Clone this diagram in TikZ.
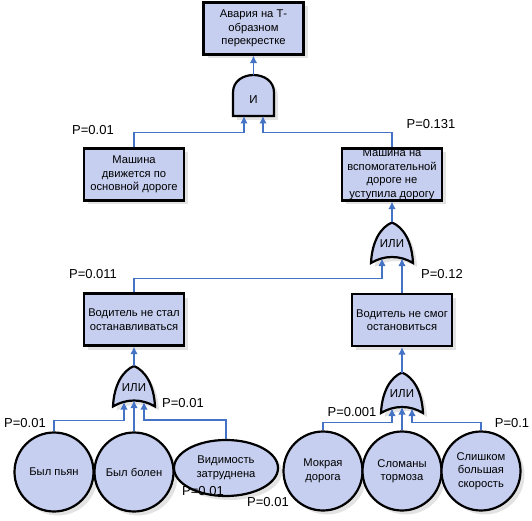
\documentclass[tikz,border=0pt]{standalone}
\usepackage{fontspec}
\setmainfont{Liberation Sans}
\usetikzlibrary{shapes.geometric}
\usetikzlibrary{shadows}
\usetikzlibrary{arrows.meta}

\definecolor{eventfill}{RGB}{198,207,240}
\definecolor{wireblue}{RGB}{68,114,196}

\tikzset{
  gateline/.style={draw=black,line width=2.2pt,fill=eventfill,
    drop shadow={shadow xshift=4pt,shadow yshift=-4pt,fill=black!22}},
  gatetext/.style={inner sep=0pt,font=\fontsize{11.5}{13}\selectfont},
  andgate/.pic={
    \draw[gateline] (-20.5,20.5) -- (-20.5,-3)
      .. controls (-20.5,-26.3) and (20.5,-26.3) .. (20.5,-3) -- (20.5,20.5) -- cycle;
    \node[gatetext] (-label) at (0,4) {И};
    \coordinate (-out) at (0,-20.5);
    \coordinate (-inl) at (-9.5,20.5);
    \coordinate (-inr) at (9.5,20.5);
  },
  orgate/.pic={
    \draw[gateline] (-21,20) .. controls (-20,-2) and (-11,-16) .. (0,-20.5)
      .. controls (11,-16) and (20,-2) .. (21,20)
      .. controls (8,12) and (-8,12) .. (-21,20) -- cycle;
    \node[gatetext] (-label) at (0,1) {ИЛИ};
    \coordinate (-out) at (0,-20.5);
    \coordinate (-inl) at (-10,15.5);
    \coordinate (-inm) at (0,14);
    \coordinate (-inr) at (10,15.5);
  }
}

\begin{document}
\begin{tikzpicture}[x=1pt,y=-1pt,
   event/.style={draw,line width=2.2pt,fill=eventfill,align=center,inner sep=0pt,
     font=\fontsize{11.2}{13.5}\selectfont,
     drop shadow={shadow xshift=4pt,shadow yshift=-4pt,fill=black!22}},
   box/.style={event,rectangle,minimum width=100pt,minimum height=52pt},
   basic/.style={event,circle,minimum size=79pt},
   plab/.style={inner sep=0pt,font=\fontsize{13}{15}\selectfont},
   link/.style={draw=wireblue,line width=1.4pt,-{Latex[length=7.5pt,width=7.5pt]}}]
\useasboundingbox (0,0) rectangle (532,521);

\node[box] (top) at (253.5,28.5) {Авария на Т-\\образном\\перекрестке};
\pic (and) at (253.5,95.5) {andgate};
\node[box] (main) at (134,174.5) {Машина\\движется по\\основной дороге};
\node[box] (side) at (392,174.5) {Машина на\\вспомогательной\\дороге не\\уступила дорогу};
\pic (or1) at (392,243) {orgate};
\node[box] (nostop) at (134,319.5) {Водитель не стал\\останавливаться};
\node[box] (cantstop) at (402,320) {Водитель не смог\\остановиться};
\pic (or2) at (134,386.5) {orgate};
\pic (or3) at (402,393) {orgate};

\node[basic] (drunk) at (54,472) {Был пьян};
\node[basic] (ill) at (134,472) {Был болен};
\node[event,ellipse,minimum width=104pt,minimum height=56pt] (vis) at (226,468) {Видимость\\затруднена};
\node[basic] (wet) at (323,471) {Мокрая\\дорога};
\node[basic] (brakes) at (402,471) {Сломаны\\тормоза};
\node[basic] (speed) at (481,471) {Слишком\\большая\\скорость};

\draw[link] (and-out) -- (top.south);
\draw[link] (main.north) -- ++(0,-15) -| (and-inl);
\draw[link] (side.north) -- ++(0,-15) -| (and-inr);
\draw[link] (or1-out) -- (side.south);
\draw[link] (nostop.north) -- ++(0,-14) -| (or1-inl);
\draw[link] (cantstop.north) -- (or1-inr);
\draw[link] (or2-out) -- (nostop.south);
\draw[link] (or3-out) -- (cantstop.south);
\draw[link] (drunk.north) -- ++(0,-11) -| (or2-inl);
\draw[link] (ill.north) -- (or2-inm);
\draw[link] (vis.north) -- ++(0,-19) -| (or2-inr);
\draw[link] (wet.north) -- ++(0,-8) -| (or3-inl);
\draw[link] (brakes.north) -- (or3-inm);
\draw[link] (speed.north) -- ++(0,-8) -| (or3-inr);

\node[plab] (pmain) at (93,130) {P=0.01};
\node[plab] (pside) at (431,124) {P=0.131};
\node[plab] (pnostop) at (93,274) {P=0.011};
\node[plab] (pcant) at (442,274) {P=0.12};
\node[plab] (pvis) at (183,403) {P=0.01};
\node[plab] (pdrunk) at (25,423) {P=0.01};
\node[plab] (pill) at (203,491) {P=0.01};
\node[plab] (pwet) at (268,502) {P=0.01};
\node[plab] (pbrakes) at (352,412) {P=0.001};
\node[plab] (pspeed) at (512,423) {P=0.1};
\end{tikzpicture}
\end{document}
